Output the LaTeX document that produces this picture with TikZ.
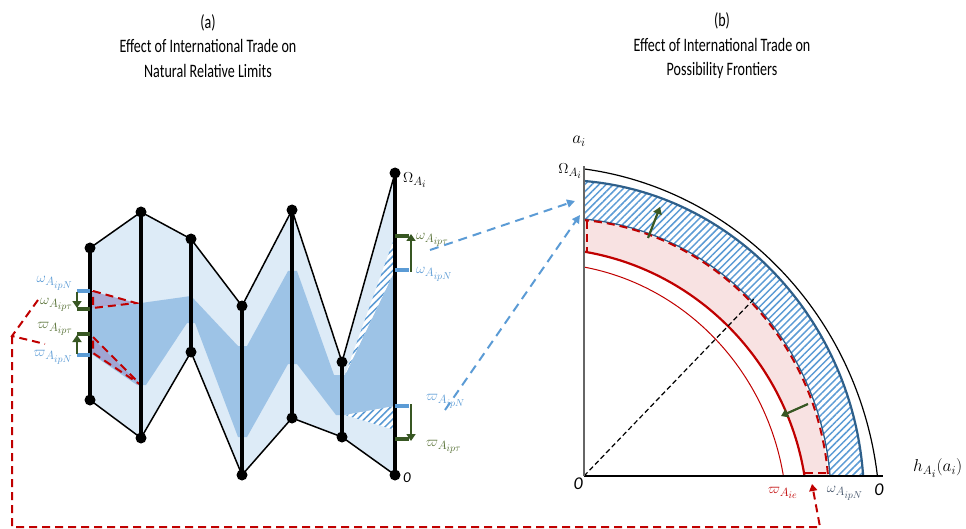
\documentclass[tikz,border=0pt]{standalone}
\usepackage{fontspec}
\setmainfont{Carlito}
\newfontfamily\titlefont[FakeStretch=0.74]{Carlito}
\DeclareMathSizes{15}{15}{12}{10}
\DeclareMathSizes{18}{18}{13}{11}
\usetikzlibrary{arrows.meta,patterns.meta,positioning}

\definecolor{bandlight}{RGB}{221,235,247}
\definecolor{bandmid}{RGB}{157,195,230}
\definecolor{labblue}{RGB}{91,155,213}
\definecolor{labgreen}{RGB}{84,110,50}
\definecolor{bargreen}{RGB}{56,87,35}
\definecolor{redline}{RGB}{192,0,0}
\definecolor{pinkfill}{RGB}{248,226,226}
\definecolor{frontblue}{RGB}{46,95,138}
\definecolor{slateblue}{RGB}{68,84,106}
\definecolor{triviolet}{RGB}{160,160,208}

\tikzset{
  colline/.style={line width=4.5pt},
  bluebar/.style={labblue, line width=3.5pt},
  greenbar/.style={bargreen, line width=3.5pt},
  greenarr/.style={bargreen, line width=2.5pt, -{Triangle[length=7pt,width=9pt]}},
  reddash/.style={redline, line width=2pt, dash pattern=on 8pt off 5pt},
  bluedash/.style={labblue, line width=2pt, dash pattern=on 9pt off 6pt, -{Triangle[length=8pt,width=8pt]}},
  hatch/.style={pattern={Lines[angle=45,distance=5pt,line width=1.5pt]}, pattern color=labblue},
  lbl/.style={font=\fontsize{15}{17}\selectfont, inner sep=1pt},
  biglbl/.style={font=\fontsize{18}{20}\selectfont, inner sep=1pt},
  title/.style={font=\titlefont\fontsize{19}{24.5}\selectfont, align=center}
}

\begin{document}
\begin{tikzpicture}[x=1pt,y=-1pt]
    \useasboundingbox (0,0) rectangle (966,529);

    %titles
    \node[title] (ta) at (208,46) {(a)\\Effect of International Trade on\\Natural Relative Limits};
    \node[title] (tb) at (722,46) {(b)\\Effect of International Trade on\\Possibility Frontiers};

    %columns of panel (a)
    \foreach \i/\x/\t/\b in {1/90/248/400, 2/141/212/438, 3/191/239/352, 4/242/306/475, 5/292/210/418, 6/342/362/437, 7/395/173/475}{
        \coordinate (t\i) at (\x,\t);
        \coordinate (b\i) at (\x,\b);
    }

    %fills
    \fill[bandlight] (t1) -- (t2) -- (t3) -- (t4) -- (t5) -- (t6) -- (t7) -- (b7) -- (b6) -- (b5) -- (b4) -- (b3) -- (b2) -- (b1) -- cycle;
    \fill[bandmid] (90,308) -- (141,303) -- (191,296) -- (238,346) -- (247,346) -- (288,271) -- (297,271) -- (334,375) -- (345,375)
        -- (395,270) -- (395,406) -- (345,415) -- (336,415) -- (297,364) -- (288,364) -- (247,437) -- (238,437)
        -- (195,323) -- (187,323) -- (146,385) -- (137,385) -- (90,353) -- cycle;
    \fill[white] (345,375) -- (395,236) -- (395,270) -- cycle;
    \fill[hatch] (345,375) -- (395,236) -- (395,270) -- cycle;
    \fill[white] (345,415) -- (395,406) -- (395,430) -- cycle;
    \fill[hatch] (345,415) -- (395,406) -- (395,430) -- cycle;

    %outline
    \draw[line width=1.5pt] (t1) -- (t2) -- (t3) -- (t4) -- (t5) -- (t6) -- (t7);
    \draw[line width=1.5pt] (b1) -- (b2) -- (b3) -- (b4) -- (b5) -- (b6) -- (b7);

    %triangles at column 1
    \fill[triviolet, opacity=0.85] (91,291) -- (136,303) -- (91,308) -- cycle;
    \fill[triviolet, opacity=0.85] (91,337) -- (141,385) -- (91,353) -- cycle;
    \draw[reddash] (93,291) -- (136,303) -- (93,308) -- cycle;
    \draw[reddash] (93,337) -- (141,385) -- (93,353) -- cycle;

    %columns
    \foreach \i in {1,...,7}{
        \draw[colline] (t\i) -- (b\i);
        \fill (t\i) circle (5.5pt);
        \fill (b\i) circle (5.5pt);
    }

    %bars at column 1
    \coordinate (wN1) at (77,291);
    \coordinate (wt1) at (77,309);
    \coordinate (vt1) at (77,334);
    \coordinate (vN1) at (77,355);
    \draw[bluebar] (wN1) -- (wN1 -| t1);
    \draw[greenbar] (wt1) -- (wt1 -| t1);
    \draw[greenbar] (vt1) -- (vt1 -| t1);
    \draw[bluebar] (vN1) -- (vN1 -| t1);
    \draw[greenarr] ([yshift=-1pt]wN1) -- ([yshift=1pt]wt1);
    \draw[greenarr] ([yshift=1pt]vN1) -- ([yshift=-1pt]vt1);
    \node[lbl, labblue, anchor=east] (lwN1) at (74,283) {$\omega_{A_{ipN}}$};
    \node[lbl, labgreen, anchor=east] (lwt1) at (74,305) {$\omega_{A_{ip\tau}}$};
    \node[lbl, labgreen, anchor=east] (lvt1) at (74,329) {$\varpi_{A_{ip\tau}}$};
    \node[lbl, labblue, anchor=east] (lvN1) at (74,357) {$\varpi_{A_{ipN}}$};

    %bars at column 7
    \coordinate (wt7) at (409,236);
    \coordinate (wN7) at (409,270);
    \coordinate (vN7) at (409,406);
    \coordinate (vt7) at (409,439);
    \draw[greenbar] (wt7 -| t7) -- (wt7);
    \draw[bluebar] (wN7 -| t7) -- (wN7);
    \draw[bluebar] (vN7 -| t7) -- (vN7);
    \draw[greenbar] (vt7 -| t7) -- (vt7);
    \draw[greenarr] ([xshift=2pt,yshift=-2pt]wN7) -- ([xshift=2pt,yshift=2pt]wt7);
    \draw[greenarr] ([xshift=2pt,yshift=2pt]vN7) -- ([xshift=2pt,yshift=-2pt]vt7);
    \node[lbl, labgreen, anchor=west] (lwt7) at (415,240) {$\omega_{A_{ip\tau}}$};
    \node[lbl, labblue, anchor=west] (lwN7) at (415,274) {$\omega_{A_{ipN}}$};
    \node[lbl, labblue, anchor=west] (lvN7) at (425,401) {$\varpi_{A_{ipN}}$};
    \node[lbl, labgreen, anchor=west] (lvt7) at (425,447) {$\varpi_{A_{ip\tau}}$};
    \node[lbl, anchor=west] (om7) at (402,180) {$\Omega_{A_i}$};
    \node[lbl, anchor=west] (z7) at (402,478) {\textit{0}};

    %frontiers of panel (b)
    \coordinate (fc) at (540,520);
    \coordinate (fd) at (560,500);
    \coordinate (org) at (584,476);
    \begin{scope}
        \clip (584,0) rectangle (966,476);
        \fill[white, even odd rule] (fd) ellipse [x radius=304pt, y radius=320pt] (fd) ellipse [x radius=271pt, y radius=282pt];
        \fill[hatch, even odd rule] (fd) ellipse [x radius=304pt, y radius=320pt] (fd) ellipse [x radius=271pt, y radius=282pt];
        \fill[pinkfill, even odd rule] (fd) ellipse [x radius=269pt, y radius=281pt] (fc) ellipse [x radius=268pt, y radius=272pt];
        \draw[line width=1.2pt] (fc) ellipse [x radius=340pt, y radius=354pt];
        \draw[frontblue, line width=2.2pt] (fd) ellipse [x radius=304pt, y radius=320pt];
        \draw[frontblue, line width=1.3pt] (fd) ellipse [x radius=271pt, y radius=282pt];
        \draw[reddash] (fd) ellipse [x radius=269pt, y radius=281pt];
        \draw[redline, line width=2.2pt] (fc) ellipse [x radius=268pt, y radius=272pt];
        \draw[redline, line width=1pt] (fc) ellipse [x radius=247pt, y radius=257pt];
    \end{scope}
    \draw[reddash] (587,221) -- (587,252);
    \draw[reddash] (805,473) -- (828,473);

    %diagonal
    \coordinate (dg) at (754,299);
    \draw[line width=1.2pt, dash pattern=on 5pt off 3pt] (org) -- (dg);

    %axis
    \draw[line width=1.3pt] (org) -- (883,476);
    \draw[black!60, line width=1.3pt] (org) -- (584,166);

    %labels of panel (b)
    \node[biglbl] (ai) at (579,141) {$a_i$};
    \node[lbl, anchor=east] (om) at (583,171) {$\Omega_{A_i}$};
    \node[biglbl, anchor=east] (z0) at (584,484) {\textit{0}};
    \node[biglbl] (z1) at (879,490) {\textit{0}};
    \node[biglbl, anchor=west] (hax) at (912,468) {$h_{A_i}(a_i)$};
    \node[lbl, redline] (vie) at (783,493) {$\varpi_{A_{ie}}$};
    \node[lbl, slateblue] (wNb) at (845,493) {$\omega_{A_{ipN}}$};

    %shifts of the frontiers
    \coordinate (g1) at (648,238);
    \coordinate (g2) at (660,207);
    \coordinate (g3) at (808,404);
    \coordinate (g4) at (781,416);
    \draw[greenarr, line width=2.2pt] (g1) -- (g2);
    \draw[greenarr, line width=2.2pt] (g3) -- (g4);

    %links between panels
    \coordinate (la) at (430,250);
    \coordinate (lb) at (445,410);
    \coordinate (ra) at (575,201);
    \coordinate (rb) at (580,215);
    \draw[bluedash] (la) -- (ra);
    \draw[bluedash] (lb) -- (rb);

    \coordinate (r1) at (38,300);
    \coordinate (r2) at (12,336);
    \coordinate (r3) at (45,344);
    \coordinate (r4) at (12,527);
    \coordinate (r5) at (820,527);
    \coordinate (r6) at (812,484);
    \draw[reddash] (r1) -- (r2) -- (r3);
    \draw[reddash, -{Triangle[length=7pt,width=8pt]}] (r2) -- (r4) -- (r5) -- (r6);
\end{tikzpicture}
\end{document}
